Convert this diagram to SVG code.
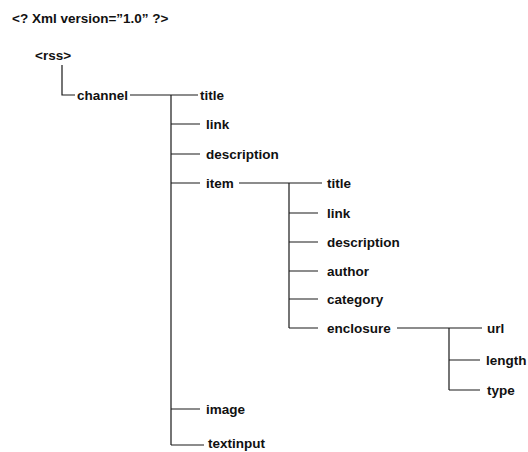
<svg xmlns="http://www.w3.org/2000/svg" width="528" height="452" viewBox="0 0 528 452">
<style>
text{font-family:"Liberation Sans",Arial,sans-serif;font-weight:bold;font-size:13.5px;fill:#111}
.c{fill:none;stroke:#1a1a1a;stroke-width:1.2}
</style>
<rect width="528" height="452" fill="#fff"/>
<g id="connectors" class="c">
<path d="M62,65V95H75"/>
<path d="M130,95H198M171,95V445M171,124H200M171,154H200M171,183H200M171,409H200M171,445H204"/>
<path d="M239,183H322M289,183V328M289,213H318M289,242H318M289,271H318M289,299H318M289,328H318"/>
<path d="M397,328H482M449,328V390M449,360H480M449,390H480"/>
</g>
<g id="xmldecl"><text x="12" y="23">&lt;? Xml version=”1.0” ?&gt;</text></g>
<g id="rss"><text x="35" y="60">&lt;rss&gt;</text></g>
<g id="channel"><text x="77" y="100">channel</text></g>
<g id="ch-title"><text x="200" y="100">title</text></g>
<g id="ch-link"><text x="206" y="129">link</text></g>
<g id="ch-description"><text x="206" y="159">description</text></g>
<g id="item"><text x="206" y="188">item</text></g>
<g id="ch-image"><text x="206" y="414">image</text></g>
<g id="ch-textinput"><text x="208" y="448">textinput</text></g>
<g id="it-title"><text x="327" y="188">title</text></g>
<g id="it-link"><text x="327" y="218">link</text></g>
<g id="it-description"><text x="327" y="247">description</text></g>
<g id="it-author"><text x="327" y="276">author</text></g>
<g id="it-category"><text x="327" y="304">category</text></g>
<g id="enclosure"><text x="327" y="333">enclosure</text></g>
<g id="en-url"><text x="487" y="333">url</text></g>
<g id="en-length"><text x="486" y="365">length</text></g>
<g id="en-type"><text x="487" y="395">type</text></g>
</svg>
